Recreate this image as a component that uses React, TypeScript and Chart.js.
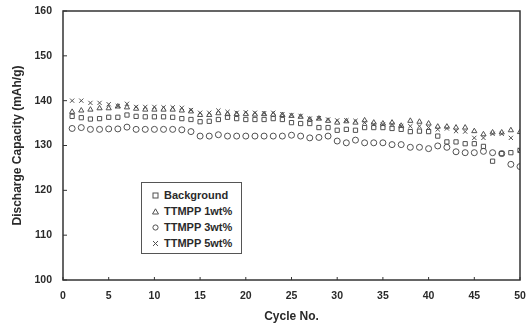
import React, { useEffect, useRef } from "react";
import { Chart, registerables } from "chart.js";

Chart.register(...registerables);

const cycles = [
  1, 2, 3, 4, 5, 6, 7, 8, 9, 10, 11, 12, 13, 14, 15, 16, 17, 18, 19, 20, 21, 22, 23, 24, 25,
  26, 27, 28, 29, 30, 31, 32, 33, 34, 35, 36, 37, 38, 39, 40, 41, 42, 43, 44, 45, 46, 47, 48, 49, 50,
];

const background = [
  136.5, 136.2, 135.9, 136.0, 136.3, 136.3, 136.8, 136.5, 136.4, 136.4, 136.4, 136.3, 136.0, 135.8, 135.3,
  135.4, 135.8, 136.3, 136.0, 135.8, 135.8, 135.8, 136.0, 135.8, 135.1, 134.9, 134.9, 134.0, 134.0, 133.4,
  133.6, 133.4, 134.0, 134.0, 134.0, 133.8, 133.6, 133.1, 133.2, 133.1, 132.1, 130.8, 130.8, 130.4, 130.4,
  129.8, 126.5, 128.2, 128.4, 128.9,
];

const ttmpp1 = [
  137.5, 137.8, 138.0, 138.3, 138.3, 138.7, 138.5, 138.2, 138.0, 138.0, 138.0, 138.0, 137.8, 137.6, 136.8,
  136.8, 137.2, 137.0, 137.0, 137.0, 136.9, 137.0, 136.9, 136.8, 136.6, 136.4, 135.8, 136.0, 135.5, 135.1,
  135.4, 135.1, 135.6, 135.1, 134.9, 135.1, 134.4, 135.5, 135.3, 134.9, 134.2, 134.2, 134.0, 134.0, 133.2,
  132.5, 132.9, 132.9, 133.4, 133.0,
];

const ttmpp3 = [
  133.8, 134.0, 133.6, 133.6, 133.7, 133.7, 134.1, 133.6, 133.6, 133.6, 133.6, 133.6, 133.5, 133.1, 132.1,
  132.1, 132.4, 132.1, 132.1, 132.1, 132.1, 132.1, 132.1, 132.1, 132.3, 132.1, 131.7, 131.8, 132.1, 131.0,
  130.6, 131.2, 130.6, 130.6, 130.6, 130.2, 130.2, 129.6, 129.6, 129.3, 129.9, 129.6, 128.6, 128.4, 128.4,
  128.7, 128.4, 128.2, 125.8, 125.3,
];

const ttmpp5 = [
  140.0, 140.0, 139.5, 139.5, 139.2, 138.8, 139.3, 138.6, 138.6, 138.6, 138.5, 138.5, 138.4, 137.9, 137.3,
  137.3, 137.8, 137.5, 137.3, 137.4, 137.3, 137.2, 137.3, 137.0, 136.8, 136.6, 136.0, 136.1, 135.8, 135.6,
  135.6, 135.5, 135.1, 134.7, 134.7, 134.7, 134.3, 134.3, 134.3, 134.0, 133.6, 133.8, 133.2, 133.1, 131.7,
  131.7, 132.6, 132.6, 131.7, 129.0,
];

const seriesNames = ["Background", "TTMPP 1wt%", "TTMPP 3wt%", "TTMPP 5wt%"];
const seriesValues = [background, ttmpp1, ttmpp3, ttmpp5];
const seriesStyles: any[] = ["rect", "triangle", "circle", "crossRot"];

const xTicks = [0, 5, 10, 15, 20, 25, 30, 35, 40, 45, 50];
const yTicks = [100, 110, 120, 130, 140, 150, 160];

const FONT = "'Liberation Sans', Arial, Helvetica, sans-serif";
const INK = "#2a2a2a";
const MARK = "#505050";

const frame = {
  id: "frame",
  afterDraw(chart: any) {
    const { ctx, chartArea } = chart;
    const { left, right, top, bottom } = chartArea;
    ctx.save();
    ctx.strokeStyle = "#333";
    ctx.lineWidth = 1.5;
    ctx.strokeRect(left, top, right - left, bottom - top);
    ctx.lineWidth = 1;
    const ys = chart.scales.y;
    const xs = chart.scales.x;
    ctx.beginPath();
    ys.ticks.forEach((t: any) => {
      const py = ys.getPixelForValue(t.value);
      ctx.moveTo(left, py);
      ctx.lineTo(left + 4, py);
    });
    xs.ticks.forEach((t: any) => {
      const px = xs.getPixelForValue(t.value);
      ctx.moveTo(px, bottom);
      ctx.lineTo(px, bottom - 3);
    });
    ctx.stroke();
    ctx.restore();
  },
};

function Marker({ kind }: { kind: string }) {
  const s = 7;
  let shape: any = null;
  if (kind === "rect") shape = <rect x={1} y={1} width={5} height={5} fill="none" stroke={MARK} strokeWidth={1} />;
  if (kind === "triangle") shape = <polygon points="3.5,0.8 6.5,6 0.5,6" fill="none" stroke={MARK} strokeWidth={1} />;
  if (kind === "circle") shape = <circle cx={3.5} cy={3.5} r={2.6} fill="none" stroke={MARK} strokeWidth={1} />;
  if (kind === "crossRot")
    shape = (
      <path d="M1,1 L6,6 M6,1 L1,6" stroke={MARK} strokeWidth={1} fill="none" />
    );
  return (
    <svg width={s} height={s} style={{ display: "block" }}>
      {shape}
    </svg>
  );
}

export default function App() {
  const ref = useRef<HTMLCanvasElement | null>(null);

  useEffect(() => {
    if (!ref.current) return;
    const datasets = seriesNames.map((name, i) => ({
      label: name,
      data: cycles.map((c, j) => ({ x: c, y: seriesValues[i][j] })),
      showLine: false,
      pointStyle: seriesStyles[i],
      pointRadius: 3,
      pointBorderWidth: 1,
      borderColor: MARK,
      backgroundColor: "rgba(0,0,0,0)",
    }));
    const chart = new Chart(ref.current, {
      type: "scatter",
      data: { datasets },
      plugins: [frame],
      options: {
        animation: false,
        responsive: true,
        maintainAspectRatio: false,
        layout: { padding: { left: 0, top: 11, right: 7, bottom: 0 } },
        plugins: { legend: { display: false }, tooltip: { enabled: false } },
        scales: {
          x: {
            type: "linear",
            min: 0,
            max: 50,
            afterBuildTicks: (s: any) => {
              s.ticks = xTicks.map((v) => ({ value: v }));
            },
            afterFit: (s: any) => {
              s.height = 44;
              s.paddingRight = 0;
              s.paddingLeft = 0;
            },
            grid: { display: false, drawTicks: false },
            border: { display: false },
            ticks: {
              padding: 10,
              color: INK,
              font: { family: FONT, size: 10.5, weight: "bold" },
              maxRotation: 0,
            },
            title: {
              display: true,
              text: "Cycle No.",
              color: INK,
              padding: { top: 0, bottom: 0 },
              font: { family: FONT, size: 12, weight: "bold" },
            },
          },
          y: {
            type: "linear",
            min: 100,
            max: 160,
            afterBuildTicks: (s: any) => {
              s.ticks = yTicks.map((v) => ({ value: v }));
            },
            afterFit: (s: any) => {
              s.width = 63;
              s.paddingTop = 0;
              s.paddingBottom = 0;
            },
            grid: { display: false, drawTicks: false },
            border: { display: false },
            ticks: {
              padding: 11,
              color: INK,
              font: { family: FONT, size: 10.5, weight: "bold" },
            },
            title: {
              display: true,
              text: "Discharge Capacity (mAh/g)",
              color: INK,
              padding: { top: 10, bottom: 0 },
              font: { family: FONT, size: 12, weight: "bold" },
            },
          },
        },
      } as any,
    });
    return () => chart.destroy();
  }, []);

  return (
    <div style={{ position: "absolute", left: 0, top: 0, width: 527, height: 324, background: "#fff" }}>
      <canvas ref={ref} />
      <div
        style={{
          position: "absolute",
          left: 141,
          top: 182,
          width: 101,
          height: 72,
          border: "1px solid #555",
          boxSizing: "border-box",
          background: "#fff",
          fontFamily: FONT,
          fontWeight: "bold",
          fontSize: 11,
          color: INK,
          paddingTop: 4,
        }}
      >
        {seriesNames.map((n, i) => (
          <div key={n} style={{ display: "flex", alignItems: "center", height: 16, paddingLeft: 10 }}>
            <Marker kind={seriesStyles[i]} />
            <span style={{ marginLeft: 5, whiteSpace: "nowrap" }}>{n}</span>
          </div>
        ))}
      </div>
    </div>
  );
}
